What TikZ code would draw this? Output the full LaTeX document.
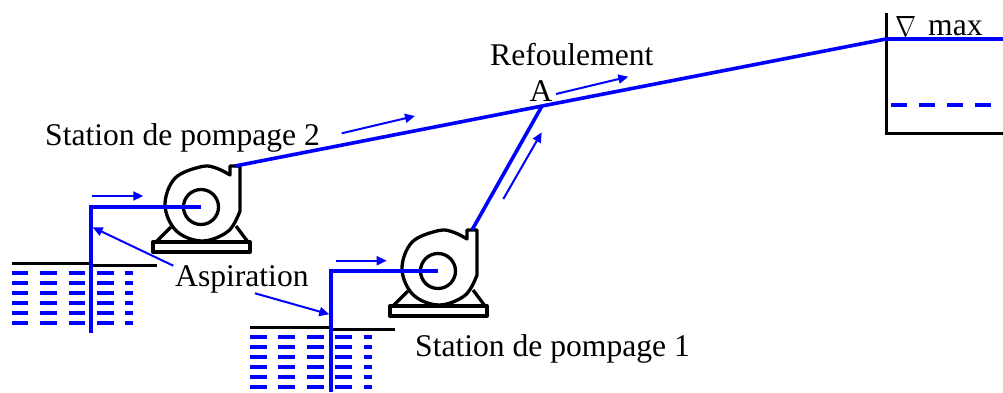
\documentclass[tikz,border=0pt]{standalone}
\usepackage{fontspec}
\setmainfont{Liberation Serif}
\usetikzlibrary{arrows.meta}

\begin{document}
\begin{tikzpicture}[x=1pt,y=-1pt,
  pipe/.style={blue, line width=3.6pt},
  flow/.style={blue, line width=2pt, -{Triangle[length=10pt,width=9pt]}},
  outline/.style={black, line width=3.3pt, line join=round},
  surface/.style={black, line width=3pt},
  water/.style={blue, line width=4pt, dash pattern=on 16.7pt off 11.7pt},
  label/.style={font=\fontsize{31.6}{38}\selectfont, inner sep=0pt, anchor=base west},
  pump/.pic={
    % volute casing with its discharge nozzle
    \draw[outline] plot[smooth, tension=0.6] coordinates {
      (28,-30) (15,-36.6) (0,-38.5) (-26.9,-26.9) (-37,0)
      (-25.8,25.8) (0,36) (26.2,26.2) (38,6)}
      -- (38,-39) -- (28,-39) -- cycle;
    % impeller eye
    \draw[outline] (-1,2) circle[radius=17.5pt];
    % feet and base plate
    \draw[outline] (-31,22) -- (-46,37) (34,21) -- (46,37);
    \draw[outline] (-49,37) rectangle (48,47);
    \coordinate (-in) at (-1,2);
    \coordinate (-out) at (33,-39);
  }]
\useasboundingbox (0,0) rectangle (1003,392);

% pumps
\pic (p2) at (202,205) {pump};
\pic (p1) at (439,269) {pump};

% sumps: water surface and water body
\draw[surface] (11.7,263.5) -- (91,263.5) -- (91,265.7) -- (156.7,265.7);
\draw[surface] (250,327.7) -- (331,327.7) -- (331,329.3) -- (395,329.3);
\foreach \k in {0,...,5}{
  \draw[water] (11.7,273.3+10*\k) -- (133.3,273.3+10*\k);
  \draw[water] (250,337.3+10*\k) -- (371.6,337.3+10*\k);
}

% downstream reservoir
\draw[surface] (886,13.3) -- (886,133.3) -- (1003,133.3);
\draw[blue, line width=4pt, dash pattern=on 16pt off 12pt] (891,105) -- (1003,105);

% key points of the network
\coordinate (s2) at (91,333);
\coordinate (s1) at (331,392);
\coordinate (A) at (542,106);
\coordinate (res) at (886,39);
\coordinate (resR) at (1003,39);

% suction pipes
\draw[pipe] (s2) |- (p2-in);
\draw[pipe] (s1) |- (p1-in);

% delivery pipes
\draw[pipe, line join=round] (p2-out) -- (A) -- (res) -- (resR);
\draw[pipe] (p1-out) -- (A);

% flow direction arrows
\draw[flow] (91.7,196) -- (143.3,196);
\draw[flow] (335.7,260.7) -- (386.7,260.7);
\draw[flow] (341.7,133.3) -- (415,116);
\draw[flow] (556,94) -- (628.3,76.7);
\draw[flow] (503.3,199) -- (541.7,132.3);

% labels
\node[label] (st2) at (45,145.7) {Station de pompage 2};
\node[label] (st1) at (415,356.7) {Station de pompage 1};
\node[label] (asp) at (175,286.7) {Aspiration};
\node[label] (ref) at (490,65) {Refoulement};
\node[label, anchor=base] (lblA) at (541,101.7) {A};
\node[label] (nab) at (895,36.7) {\resizebox{21pt}{20pt}{$\nabla$}};
\node[label] (mx) at (928,35) {max};

% arrows from the suction label to the pipes
\draw[flow] (173.3,265.7) -- (92.7,227.3);
\draw[flow] (255,293.3) -- (329.3,314.3);
\end{tikzpicture}
\end{document}
